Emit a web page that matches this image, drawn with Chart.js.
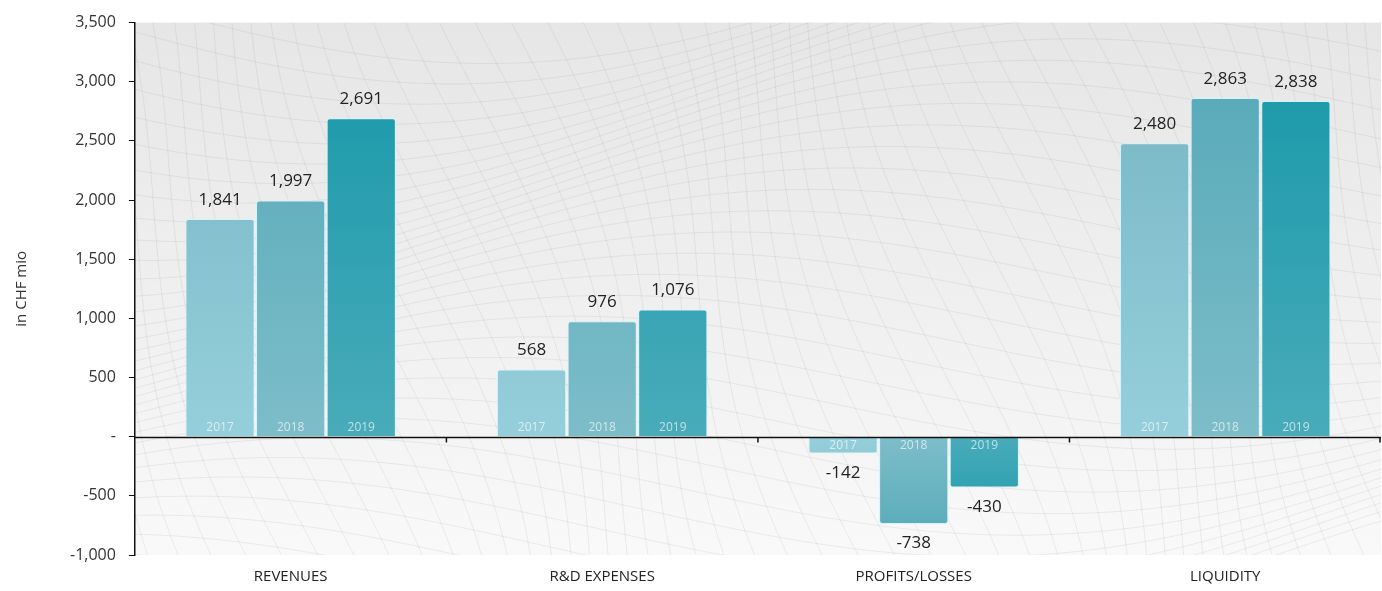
<!DOCTYPE html>
<html>
<head>
<meta charset="utf-8">
<script src="https://cdn.jsdelivr.net/npm/chart.js@4/dist/chart.umd.min.js"></script>
<style>
  html, body { margin: 0; padding: 0; background: #fff; }
  #wrap { width: 1382px; height: 591px; }
</style>
</head>
<body>
<div id="wrap"><canvas id="kpiChart"></canvas></div>
<script>
// Key figures, in CHF mio
const categories = ['REVENUES', 'R&D EXPENSES', 'PROFITS/LOSSES', 'LIQUIDITY'];
const years = ['2017', '2018', '2019'];
const values2017 = [1841, 568, -142, 2480];
const values2018 = [1997, 976, -738, 2863];
const values2019 = [2691, 1076, -430, 2838];
const yMin = -1000;
const yMax = 3500;
const yStep = 500;

// top colour / colour next to zero, one pair per year
const barShades = [
    ['#74b3c1', '#95cfdb'],
    ['#52a7b7', '#7dbdc9'],
    ['#1497a8', '#49abba']
];

const fmt = v => v.toLocaleString('en-US');

function barGradient(ctx, idx) {
    const chart = ctx.chart;
    const area = chart.chartArea;
    if (!area) return barShades[idx][0];
    const y = chart.scales.y;
    const zero = y.getPixelForValue(0);
    const g = chart.ctx.createLinearGradient(0, area.top, 0, area.bottom);
    const z = (zero - area.top) / (area.bottom - area.top);
    g.addColorStop(0, barShades[idx][0]);
    g.addColorStop(z, barShades[idx][1]);
    g.addColorStop(1, barShades[idx][0]);
    return g;
}

// faint grey wave mesh behind the plot
const meshBackground = {
    id: 'meshBackground',
    beforeDraw(chart) {
        const { ctx, chartArea: a } = chart;
        ctx.save();
        const bg = ctx.createLinearGradient(0, a.top, 0, a.bottom);
        bg.addColorStop(0, '#e6e6e6');
        bg.addColorStop(0.5, '#efefef');
        bg.addColorStop(1, '#f9f9f9');
        ctx.fillStyle = bg;
        ctx.fillRect(a.left, a.top, a.right - a.left, a.bottom - a.top);
        ctx.beginPath();
        ctx.rect(a.left, a.top, a.right - a.left, a.bottom - a.top);
        ctx.clip();
        ctx.strokeStyle = 'rgba(120,120,120,0.11)';
        ctx.lineWidth = 1;
        const w = a.right - a.left, h = a.bottom - a.top;
        for (let k = 0; k < 34; k++) {
            ctx.beginPath();
            for (let s = 0; s <= 60; s++) {
                const t = s / 60;
                const x = a.left + t * w;
                const y = a.top + (k / 34) * h * 1.2 - 60 + 70 * Math.sin(t * 5 + k * 0.15) + 40 * Math.cos(t * 2.3);
                s ? ctx.lineTo(x, y) : ctx.moveTo(x, y);
            }
            ctx.stroke();
        }
        for (let k = 0; k < 60; k++) {
            ctx.beginPath();
            for (let s = 0; s <= 40; s++) {
                const t = s / 40;
                const x = a.left - 200 + (k / 60) * (w + 400) + t * 160 + 30 * Math.sin(t * 4 + k * 0.3);
                const y = a.top + t * h;
                s ? ctx.lineTo(x, y) : ctx.moveTo(x, y);
            }
            ctx.stroke();
        }
        ctx.restore();
    }
};

// zero line with category boundary ticks
const zeroAxis = {
    id: 'zeroAxis',
    afterDatasetsDraw(chart) {
        const { ctx, chartArea: a, scales: { x, y } } = chart;
        const zero = Math.round(y.getPixelForValue(0)) + 0.5;
        ctx.save();
        ctx.strokeStyle = '#111';
        ctx.lineWidth = 1.5;
        ctx.beginPath();
        ctx.moveTo(a.left, zero);
        ctx.lineTo(a.right, zero);
        const half = (x.getPixelForValue(1) - x.getPixelForValue(0)) / 2;
        for (let i = 1; i <= categories.length; i++) {
            const bx = Math.min(x.getPixelForValue(i) - half, a.right - 1);
            ctx.moveTo(bx, zero);
            ctx.lineTo(bx, zero + 5);
        }
        ctx.stroke();
        ctx.restore();
    }
};

// value labels and year labels on the bars
const barLabels = {
    id: 'barLabels',
    afterDatasetsDraw(chart) {
        const { ctx } = chart;
        ctx.save();
        ctx.textAlign = 'center';
        chart.data.datasets.forEach((ds, di) => {
            const meta = chart.getDatasetMeta(di);
            meta.data.forEach((bar, i) => {
                const v = ds.data[i];
                ctx.fillStyle = '#222';
                ctx.font = '17px "Open Sans", sans-serif';
                if (v >= 0) {
                    ctx.textBaseline = 'alphabetic';
                    ctx.fillText(fmt(v), bar.x, bar.y - 14);
                } else {
                    ctx.textBaseline = 'top';
                    ctx.fillText(fmt(v), bar.x, bar.y + 11);
                }
                ctx.fillStyle = 'rgba(255,255,255,0.65)';
                ctx.font = '12px "Open Sans", sans-serif';
                if (v >= 0) {
                    ctx.textBaseline = 'alphabetic';
                    ctx.fillText(ds.label, bar.x, bar.base - 5);
                } else {
                    ctx.textBaseline = 'top';
                    ctx.fillText(ds.label, bar.x, bar.base + 2);
                }
            });
        });
        ctx.restore();
    }
};

const seriesValues = [values2017, values2018, values2019];

new Chart(document.getElementById('kpiChart'), {
    type: 'bar',
    data: {
        labels: categories,
        datasets: years.map((yr, idx) => ({
            label: yr,
            data: seriesValues[idx],
            backgroundColor: ctx => barGradient(ctx, idx),
            borderColor: 'rgba(205,246,250,0.95)',
            borderWidth: 1,
            borderSkipped: 'start',
            borderRadius: 3,
            categoryPercentage: 0.68,
            barPercentage: 0.98
        }))
    },
    options: {
        responsive: true,
        maintainAspectRatio: false,
        animation: false,
        layout: { padding: { top: 11, right: 1, left: 6, bottom: 0 } },
        plugins: {
            legend: { display: false },
            tooltip: { enabled: false }
        },
        scales: {
            x: {
                grid: { display: false, drawTicks: false },
                border: { display: false },
                ticks: {
                    color: '#222',
                    font: { family: '"Open Sans", sans-serif', size: 15 },
                    padding: 13
                },
                afterFit: scale => { scale.height = 36; }
            },
            y: {
                min: yMin,
                max: yMax,
                border: { display: true, color: '#111', width: 1.5 },
                grid: {
                    drawOnChartArea: false,
                    drawTicks: true,
                    tickLength: 6,
                    tickColor: '#111'
                },
                ticks: {
                    stepSize: yStep,
                    color: '#333',
                    padding: 13,
                    font: { family: '"Open Sans", sans-serif', size: 16 },
                    callback: v => v === 0 ? '-' : fmt(v)
                },
                title: {
                    display: true,
                    text: 'in CHF mio',
                    color: '#333',
                    font: { family: '"Open Sans", sans-serif', size: 15 },
                    padding: { top: 7, bottom: 26 }
                }
            }
        }
    },
    plugins: [meshBackground, zeroAxis, barLabels]
});
</script>
</body>
</html>
